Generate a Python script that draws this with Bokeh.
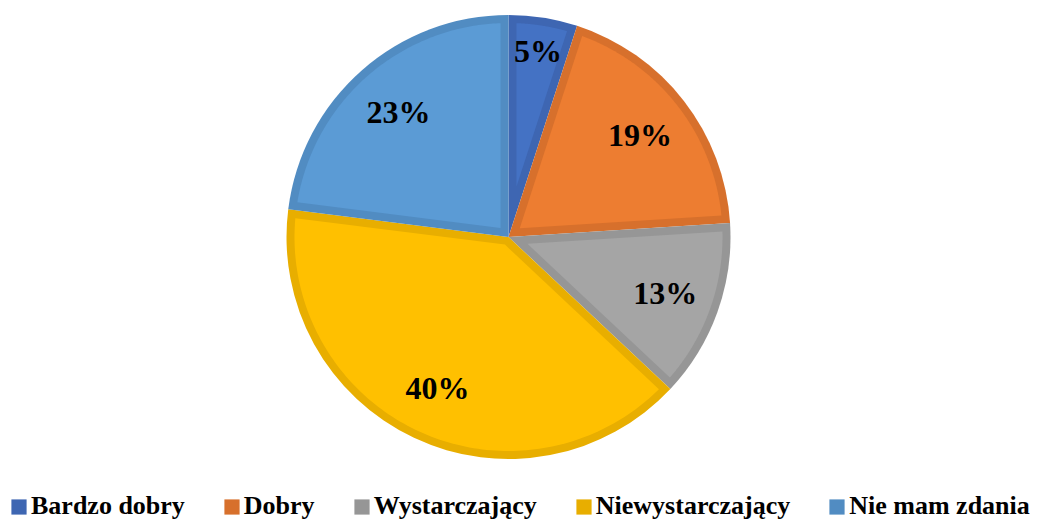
import numpy as np
from bokeh.plotting import figure
from bokeh.models import Range1d, Legend, LegendItem, ColumnDataSource
from bokeh.core.properties import value
from bokeh.embed import file_html
from bokeh.resources import INLINE

categories = ["Bardzo dobry", "Dobry", "Wystarczający", "Niewystarczający", "Nie mam zdania"]
percent = [5, 19, 13, 40, 23]
labels = ["5%", "19%", "13%", "40%", "23%"]
fill_colors = ["#4472C4", "#ED7D31", "#A5A5A5", "#FFC000", "#5B9BD5"]
edge_colors = ["#3E66B2", "#D7702C", "#969696", "#E8AE00", "#518CC2"]

W, H = 1038, 521
p = figure(width=W, height=H, x_range=Range1d(0, W), y_range=Range1d(0, H),
           output_backend="svg", toolbar_location=None, min_border=0)
p.axis.visible = False
p.grid.visible = False
p.outline_line_color = None
p.background_fill_color = "white"

cx, cy, R, d = 508.0, 284.5, 222.0, 8.0

vals = np.array(percent, dtype=float)
frac = vals / vals.sum()
cum = np.concatenate([[0.0], np.cumsum(frac)])
start = np.pi / 2 - 2 * np.pi * cum[:-1]   # larger angle
end = np.pi / 2 - 2 * np.pi * cum[1:]      # smaller angle

src = ColumnDataSource(dict(start=end, end=start, color=edge_colors, cat=categories))
wr = p.wedge(x=cx, y=cy, radius=R, start_angle="start", end_angle="end",
             fill_color="color", line_color=None, source=src)

# inner (lighter) fill, inset by d
xs, ys = [], []
rho = R - d
for a, b in zip(start, end):
    s = a - b
    vr = d / np.sin(s / 2)
    mid = (a + b) / 2
    px = [cx + vr * np.cos(mid)]
    py = [cy + vr * np.sin(mid)]
    da = np.arcsin(d / rho)
    t = np.linspace(a - da, b + da, 120)
    px += list(cx + rho * np.cos(t))
    py += list(cy + rho * np.sin(t))
    xs.append(px)
    ys.append(py)
p.patches(xs=xs, ys=ys, fill_color=fill_colors, line_color=None)

# labels
mids = (start + end) / 2
lr = np.where(vals < 10, 0.85, 0.75) * R
lx = cx + lr * np.cos(mids)
ly = cy + lr * np.sin(mids)
p.text(x=lx, y=ly, text=labels, text_align="center", text_baseline="middle",
       text_font=value("Liberation Serif"), text_font_style="bold",
       text_font_size="32px", text_color="black")

items = [LegendItem(label=c, renderers=[wr], index=i) for i, c in enumerate(categories)]
legend = Legend(items=items, orientation="horizontal", location=(9, 0),
                label_text_font="Liberation Serif", label_text_font_style="bold",
                label_text_font_size="26px", label_text_color="black",
                glyph_width=19, glyph_height=19, label_standoff=3, spacing=37,
                padding=0, margin=0, border_line_color=None,
                background_fill_alpha=0)
p.add_layout(legend, "center")

open("out.html", "w").write(file_html(p, INLINE))
